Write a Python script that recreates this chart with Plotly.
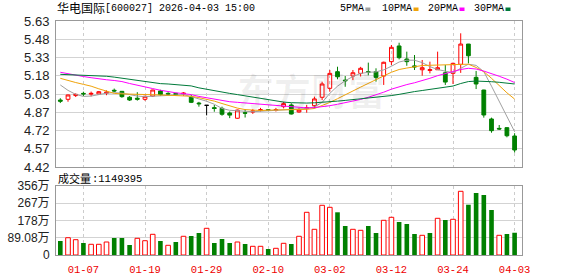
import numpy as np
import plotly.graph_objects as go

# ---------------- data ----------------
dates = ["12-31", "01-05", "01-06", "01-07", "01-08", "01-09", "01-12", "01-13", "01-14", "01-15",
         "01-16", "01-19", "01-20", "01-21", "01-22", "01-23", "01-26", "01-27", "01-28", "01-29",
         "01-30", "02-02", "02-03", "02-04", "02-05", "02-06", "02-09", "02-10", "02-11", "02-12",
         "02-13", "02-24", "02-25", "02-26", "02-27", "03-02", "03-03", "03-04", "03-05", "03-06",
         "03-09", "03-10", "03-11", "03-12", "03-13", "03-16", "03-17", "03-18", "03-19", "03-20",
         "03-23", "03-24", "03-25", "03-26", "03-27", "03-30", "03-31", "04-01", "04-02", "04-03"]
tick_labels = ["01-07", "01-19", "01-29", "02-10", "03-02", "03-12", "03-24", "04-03"]

open_ = [4.975, 4.981, 5.012, 5.030, 5.024, 5.025, 5.032, 5.056, 5.047, 4.998,
         4.990, 4.981, 5.008, 5.050, 5.030, 5.030, 5.025, 4.998, 4.950, 4.931,
         4.912, 4.906, 4.868, 4.824, 4.870, 4.875, 4.888, 4.895, 4.890, 4.920,
         4.934, 4.876, 4.905, 4.928, 4.998, 5.072, 5.210, 5.140, 5.174, 5.196,
         5.210, 5.210, 5.174, 5.293, 5.423, 5.315, 5.258, 5.226, 5.220, 5.226,
         5.201, 5.196, 5.271, 5.439, 5.163, 5.058, 4.818, 4.740, 4.746, 4.677]
high = [4.990, 5.020, 5.030, 5.044, 5.045, 5.050, 5.055, 5.070, 5.050, 5.008,
        5.040, 5.010, 5.060, 5.060, 5.040, 5.035, 5.040, 5.017, 4.960, 4.932,
        4.934, 4.920, 4.880, 4.895, 4.900, 4.900, 4.910, 4.900, 4.910, 4.960,
        4.948, 4.910, 4.935, 5.003, 5.127, 5.224, 5.251, 5.174, 5.224, 5.250,
        5.285, 5.238, 5.293, 5.431, 5.450, 5.376, 5.348, 5.307, 5.293, 5.376,
        5.265, 5.285, 5.528, 5.440, 5.216, 5.060, 4.829, 4.768, 4.750, 4.700]
low = [4.950, 4.961, 5.000, 5.008, 5.005, 5.020, 5.015, 5.040, 4.994, 4.967,
       4.970, 4.969, 5.000, 5.010, 5.010, 5.010, 5.010, 4.950, 4.920, 4.848,
       4.878, 4.845, 4.825, 4.820, 4.830, 4.860, 4.880, 4.885, 4.880, 4.906,
       4.855, 4.870, 4.870, 4.906, 4.975, 5.044, 5.147, 5.085, 5.140, 5.170,
       5.180, 5.127, 5.100, 5.265, 5.312, 5.259, 5.224, 5.177, 5.196, 5.224,
       5.100, 5.108, 5.200, 5.279, 5.066, 4.829, 4.704, 4.727, 4.666, 4.540]
close = [4.965, 5.017, 5.022, 5.026, 5.030, 5.044, 5.040, 5.050, 5.003, 4.975,
         4.982, 5.006, 5.058, 5.020, 5.025, 5.020, 5.032, 4.956, 4.944, 4.931,
         4.905, 4.857, 4.850, 4.892, 4.866, 4.885, 4.895, 4.889, 4.896, 4.945,
         4.859, 4.892, 4.912, 4.984, 5.108, 5.196, 5.168, 5.135, 5.201, 5.238,
         5.205, 5.163, 5.288, 5.412, 5.326, 5.293, 5.250, 5.243, 5.227, 5.243,
         5.124, 5.279, 5.439, 5.342, 5.108, 4.851, 4.721, 4.735, 4.679, 4.561]

# volume in 万手
volume = [72.3, 89.3, 79.0, 62.0, 55.3, 55.3, 67.1, 87.8, 87.8, 51.6,
          86.2, 73.8, 106.9, 72.3, 50.1, 67.1, 96.6, 98.1, 113.6, 137.9,
          62.0, 82.6, 62.0, 67.1, 56.8, 44.9, 44.9, 31.0, 34.6, 60.4,
          56.8, 96.6, 220.5, 132.7, 256.7, 246.3, 220.5, 149.8, 132.7, 127.5,
          149.8, 113.6, 179.2, 194.7, 170.4, 160.1, 108.4, 101.7, 113.6, 189.5,
          180.7, 184.4, 328.9, 259.7, 320.2, 309.8, 232.4, 101.7, 108.4, 114.94]
volume_up = [0, 1, 1, 0, 1, 1, 1, 0, 0, 0,
             1, 1, 1, 0, 1, 0, 1, 0, 0, 1,
             0, 0, 0, 1, 0, 1, 1, 0, 1, 1,
             0, 1, 1, 1, 1, 1, 0, 0, 1, 1,
             0, 0, 1, 1, 0, 0, 0, 1, 0, 1,
             0, 1, 1, 0, 0, 0, 0, 1, 0, 0]

ma5 = [5.100, 5.055, 5.022, 5.005, 5.008, 5.020, 5.032, 5.036, 5.032, 5.020,
       5.008, 5.003, 5.006, 5.010, 5.015, 5.018, 5.020, 5.003, 4.985, 4.965,
       4.940, 4.905, 4.890, 4.884, 4.880, 4.878, 4.882, 4.885, 4.888, 4.890,
       4.893, 4.898, 4.905, 4.918, 4.955, 5.030, 5.090, 5.135, 5.170, 5.195,
       5.205, 5.208, 5.225, 5.255, 5.290, 5.305, 5.305, 5.285, 5.252, 5.228,
       5.212, 5.201, 5.238, 5.272, 5.262, 5.210, 5.090, 4.960, 4.835, 4.713]
ma10 = [5.155, 5.135, 5.120, 5.105, 5.090, 5.068, 5.046, 5.030, 5.026, 5.023,
        5.021, 5.019, 5.018, 5.017, 5.015, 5.014, 5.011, 5.006, 4.995, 4.982,
        4.966, 4.946, 4.926, 4.908, 4.896, 4.889, 4.888, 4.891, 4.892, 4.893,
        4.897, 4.897, 4.898, 4.905, 4.928, 4.955, 4.986, 5.015, 5.050, 5.082,
        5.115, 5.145, 5.175, 5.205, 5.228, 5.240, 5.252, 5.261, 5.263, 5.265,
        5.267, 5.270, 5.274, 5.272, 5.245, 5.210, 5.155, 5.092, 5.035, 4.983]
ma20 = [5.205, 5.192, 5.180, 5.170, 5.160, 5.150, 5.143, 5.137, 5.128, 5.112,
        5.100, 5.083, 5.070, 5.056, 5.044, 5.035, 5.028, 5.020, 5.005, 4.993,
        4.983, 4.970, 4.961, 4.956, 4.951, 4.946, 4.941, 4.935, 4.930, 4.925,
        4.920, 4.913, 4.910, 4.912, 4.918, 4.928, 4.940, 4.952, 4.965, 4.980,
        4.998, 5.018, 5.040, 5.065, 5.085, 5.103, 5.118, 5.135, 5.155, 5.177,
        5.195, 5.212, 5.228, 5.238, 5.232, 5.215, 5.195, 5.172, 5.148, 5.120]
ma30 = [5.188, 5.186, 5.183, 5.181, 5.178, 5.176, 5.172, 5.165, 5.156, 5.145,
        5.135, 5.125, 5.117, 5.111, 5.108, 5.104, 5.098, 5.092, 5.076, 5.063,
        5.052, 5.041, 5.030, 5.020, 5.010, 4.999, 4.988, 4.977, 4.965, 4.958,
        4.953, 4.950, 4.950, 4.952, 4.955, 4.960, 4.966, 4.972, 4.978, 4.984,
        4.990, 4.996, 5.002, 5.012, 5.022, 5.035, 5.045, 5.054, 5.062, 5.070,
        5.080, 5.091, 5.112, 5.128, 5.132, 5.132, 5.127, 5.122, 5.115, 5.108]

price_tick_text = ["4.42", "4.57", "4.72", "4.87", "5.03", "5.18", "5.33", "5.48", "5.63"]
price_min, price_max = 4.42, 5.63
vol_tick_vals = [0, 89.08, 178.16, 267.24, 356.32]
vol_tick_text = ["0", "89.08万", "178万", "267万", "356万"]

title_name = "华电国际"
title_rest = "[600027] 2026-04-03 15:00"
vol_title = "成交量"
vol_value = ":1149395"
ma_names = ["5PMA", "10PMA", "20PMA", "30PMA"]
watermark = "东方财富"

# ---------------- styles ----------------
RED = "#ff0000"
GREEN = "#008000"
MA_COLORS = ["#a0a0a0", "#f0a30a", "#ff00ff", "#007a3a"]
GRID = "#d3d3d3"
FRAME = "#999999"

W, H = 578, 276
L, R, T, B = 56, 56, 21, 21
PW, PH = W - L - R, H - T - B


def px_x(px):
    return (px - L) / PW


def px_y(py):
    return (H - B - py) / PH


x = list(range(len(dates)))
tickvals = [dates.index(t) for t in tick_labels]

fig = go.Figure()

# candles (non-flat)
idx_main = [i for i in x if close[i] != open_[i]]
idx_flat = [i for i in x if close[i] == open_[i]]
fig.add_trace(go.Candlestick(
    x=idx_main, open=[open_[i] for i in idx_main], high=[high[i] for i in idx_main],
    low=[low[i] for i in idx_main], close=[close[i] for i in idx_main],
    increasing=dict(line=dict(color=RED, width=1), fillcolor="rgba(255,255,255,0)"),
    decreasing=dict(line=dict(color=GREEN, width=1), fillcolor=GREEN),
    whiskerwidth=0, xaxis="x2", yaxis="y2", hoverinfo="skip"))
if idx_flat:
    fig.add_trace(go.Candlestick(
        x=idx_flat, open=[open_[i] for i in idx_flat], high=[high[i] for i in idx_flat],
        low=[low[i] for i in idx_flat], close=[close[i] for i in idx_flat],
        increasing=dict(line=dict(color="#000000", width=1), fillcolor="#000000"),
        decreasing=dict(line=dict(color="#000000", width=1), fillcolor="#000000"),
        whiskerwidth=0, xaxis="x2", yaxis="y2", hoverinfo="skip"))

# moving averages
for name, vals, col in zip(ma_names, [ma5, ma10, ma20, ma30], MA_COLORS):
    fig.add_trace(go.Scatter(x=x, y=vals, mode="lines", line=dict(color=col, width=1),
                             xaxis="x2", yaxis="y2", name=name, hoverinfo="skip"))

# volume
up_i = [i for i in x if volume_up[i]]
dn_i = [i for i in x if not volume_up[i]]
fig.add_trace(go.Bar(x=up_i, y=[volume[i] for i in up_i], width=0.6,
                     marker=dict(color="white", line=dict(color=RED, width=1)),
                     xaxis="x", yaxis="y", hoverinfo="skip"))
fig.add_trace(go.Bar(x=dn_i, y=[volume[i] for i in dn_i], width=0.6,
                     marker=dict(color=GREEN, line=dict(color=GREEN, width=0)),
                     xaxis="x", yaxis="y", hoverinfo="skip"))

xr = [-0.56, len(dates) - 1 + 0.96]
price_domain = [px_y(167), 1.0]
vol_domain = [0.0, px_y(186)]

common_x = dict(range=xr, tickvals=tickvals, ticktext=tick_labels, showgrid=True,
                gridcolor="#cccccc", griddash="3px,3px", gridwidth=1, showline=True,
                mirror=True, linecolor=FRAME, linewidth=1, zeroline=False, ticks="",
                rangeslider=dict(visible=False), fixedrange=True, automargin=False)

fig.update_layout(
    width=W, height=H, margin=dict(l=L, r=R, t=T, b=B, autoexpand=False),
    paper_bgcolor="white", plot_bgcolor="white", showlegend=False,
    barmode="overlay", boxgap=0.3,
    xaxis=dict(common_x, anchor="y", domain=[0, 1],
               tickfont=dict(family="Liberation Mono", size=10.5, color="#ee0000"),
               ticklabelstandoff=4),
    xaxis2=dict(common_x, anchor="y2", domain=[0, 1], showticklabels=False),
    yaxis=dict(domain=vol_domain, range=[0, vol_tick_vals[-1]], tickvals=vol_tick_vals,
               ticktext=vol_tick_text, showgrid=True, gridcolor=GRID, showline=True,
               mirror=True, linecolor=FRAME, zeroline=False, ticks="",
               tickfont=dict(family="Liberation Sans, Noto Sans CJK SC", size=12, color="#222"),
               ticklabelstandoff=3, fixedrange=True, automargin=False),
    yaxis2=dict(domain=price_domain, range=[price_min, price_max],
                tickvals=list(np.linspace(price_min, price_max, len(price_tick_text))),
                ticktext=price_tick_text, showgrid=True, gridcolor=GRID, showline=True,
                mirror=True, linecolor=FRAME, zeroline=False, ticks="",
                tickfont=dict(family="Liberation Sans", size=13, color="#222"),
                ticklabelstandoff=3, fixedrange=True, automargin=False),
)

ann = []
# watermark
ann.append(dict(text="<b>" + watermark + "</b>", x=px_x(311), y=px_y(90), xref="paper",
                yref="paper", xanchor="center", yanchor="middle", showarrow=False,
                font=dict(family="Noto Sans CJK SC", size=37, color="rgba(0,0,0,0.06)")))
# title
ann.append(dict(text=title_name, x=px_x(55), y=px_y(8), xref="paper", yref="paper",
                xanchor="left", yanchor="middle", showarrow=False,
                font=dict(family="Noto Sans CJK SC", size=12, color="#000")))
ann.append(dict(text=title_rest, x=px_x(103), y=px_y(8.5), xref="paper", yref="paper",
                xanchor="left", yanchor="middle", showarrow=False,
                font=dict(family="Liberation Mono", size=10, color="#000")))
# volume title
ann.append(dict(text=vol_title, x=px_x(56), y=px_y(178), xref="paper", yref="paper",
                xanchor="left", yanchor="middle", showarrow=False,
                font=dict(family="Noto Sans CJK SC", size=11, color="#000")))
ann.append(dict(text=vol_value, x=px_x(90), y=px_y(178.5), xref="paper", yref="paper",
                xanchor="left", yanchor="middle", showarrow=False,
                font=dict(family="Liberation Mono", size=10.5, color="#000")))
# MA legend
legend_x = [338, 380, 426, 472]
shapes = []
for name, col, lx in zip(ma_names, MA_COLORS, legend_x):
    ann.append(dict(text=name, x=px_x(lx), y=px_y(9), xref="paper", yref="paper",
                    xanchor="left", yanchor="middle", showarrow=False,
                    font=dict(family="Liberation Mono", size=10, color="#000")))
    sx = lx + 6.1 * len(name) + 3
    shapes.append(dict(type="rect", xref="paper", yref="paper",
                       x0=px_x(sx), x1=px_x(sx + 5), y0=px_y(11), y1=px_y(7.5),
                       fillcolor=col, line=dict(width=0)))

fig.update_layout(annotations=ann, shapes=shapes)
fig.write_html("out.html")
